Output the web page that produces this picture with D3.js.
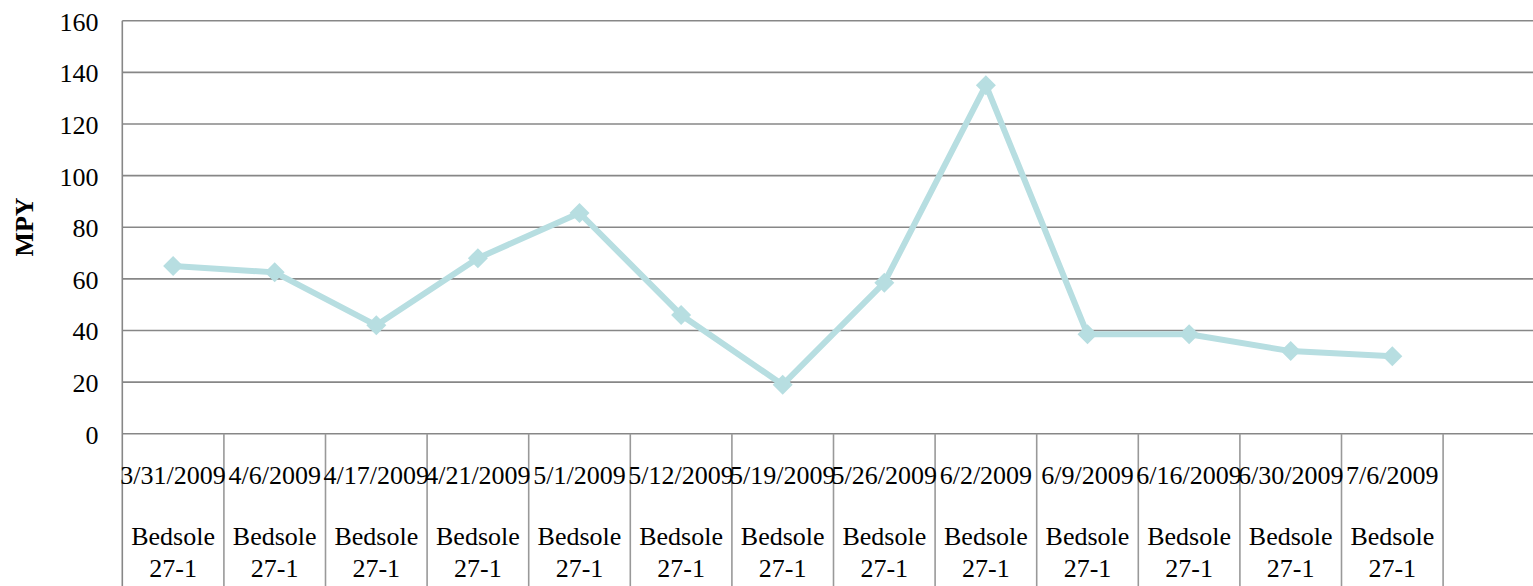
<!DOCTYPE html>
<html>
<head>
<meta charset="utf-8">
<script src="https://cdn.jsdelivr.net/npm/d3@7"></script>
<style>
  html, body { margin: 0; padding: 0; background: #fff; overflow: hidden; }
  svg { display: block; font-family: "Liberation Serif", "Times New Roman", serif; }
</style>
</head>
<body>
<svg id="chart" width="1533" height="586"></svg>
<script>
// Sampling dates (first category level) and site (second level)
const dates = ["3/31/2009", "4/6/2009", "4/17/2009", "4/21/2009", "5/1/2009", "5/12/2009",
               "5/19/2009", "5/26/2009", "6/2/2009", "6/9/2009", "6/16/2009", "6/30/2009", "7/6/2009"];
const sites = ["Bedsole 27-1", "Bedsole 27-1", "Bedsole 27-1", "Bedsole 27-1", "Bedsole 27-1",
               "Bedsole 27-1", "Bedsole 27-1", "Bedsole 27-1", "Bedsole 27-1", "Bedsole 27-1",
               "Bedsole 27-1", "Bedsole 27-1", "Bedsole 27-1"];
// Corrosion rate, MPY
const mpy = [65, 62.5, 42, 68, 85.5, 46, 19, 58.5, 135, 38.5, 38.5, 32, 30];
const yTicks = [0, 20, 40, 60, 80, 100, 120, 140, 160];
const yTitle = "MPY";

const svg = d3.select("#chart");
const plotLeft = 122.3, plotTop = 20.7, plotBottom = 433.7;
const slots = 14;               // category slots on the axis (last one is empty)
const band = 101.6;

const x = d3.scaleBand().domain(d3.range(slots)).range([plotLeft, plotLeft + band * slots]).padding(0);
const y = d3.scaleLinear().domain([0, 160]).range([plotBottom, plotTop]);

const grid = "#878787";

// horizontal gridlines
svg.append("g").selectAll("line").data(yTicks).join("line")
  .attr("x1", plotLeft).attr("x2", plotLeft + band * slots)
  .attr("y1", d => y(d)).attr("y2", d => y(d))
  .attr("stroke", grid).attr("stroke-width", 1.6);

// value axis line
svg.append("line")
  .attr("x1", plotLeft).attr("x2", plotLeft).attr("y1", plotTop).attr("y2", 586)
  .attr("stroke", grid).attr("stroke-width", 1.6);

// y tick labels
svg.append("g").selectAll("text").data(yTicks).join("text")
  .attr("x", 98.5).attr("y", d => y(d)).attr("dy", 10)
  .attr("text-anchor", "end").attr("font-size", 26).attr("fill", "#000")
  .text(d => d);

// y title
svg.append("text")
  .attr("transform", "translate(33,227) rotate(-90)")
  .attr("text-anchor", "middle").attr("font-size", 26).attr("font-weight", "bold")
  .text(yTitle);

// category boundary lines below the axis
svg.append("g").selectAll("line").data(d3.range(1, slots + 1)).join("line")
  .attr("x1", d => x(d - 1) + band).attr("x2", d => x(d - 1) + band)
  .attr("y1", plotBottom).attr("y2", 586)
  .attr("stroke", "#999").attr("stroke-width", 1.6);

// category labels: dates
svg.append("g").selectAll("text").data(dates).join("text")
  .attr("x", (d, i) => x(i) + band / 2).attr("y", 484)
  .attr("text-anchor", "middle").attr("font-size", 26)
  .text(d => d);

// category labels: site, split over two lines
const siteG = svg.append("g").selectAll("text").data(sites).join("text")
  .attr("text-anchor", "middle").attr("font-size", 26);
siteG.each(function(d, i) {
  const parts = d.split(" ");
  const t = d3.select(this);
  t.append("tspan").attr("x", x(i) + band / 2).attr("y", 545).text(parts[0]);
  t.append("tspan").attr("x", x(i) + band / 2).attr("y", 576.5).text(parts[1]);
});

// series line
const lineColor = "#b7dee1";
const line = d3.line().x((d, i) => x(i) + band / 2).y(d => y(d));
svg.append("path").datum(mpy)
  .attr("d", line).attr("fill", "none")
  .attr("stroke", lineColor).attr("stroke-width", 6).attr("stroke-linejoin", "round");

// diamond markers
const diamond = d3.symbol().type(d3.symbolSquare).size(200);
svg.append("g").selectAll("path").data(mpy).join("path")
  .attr("transform", (d, i) => `translate(${x(i) + band / 2},${y(d)}) rotate(45)`)
  .attr("d", diamond).attr("fill", lineColor);
</script>
</body>
</html>
